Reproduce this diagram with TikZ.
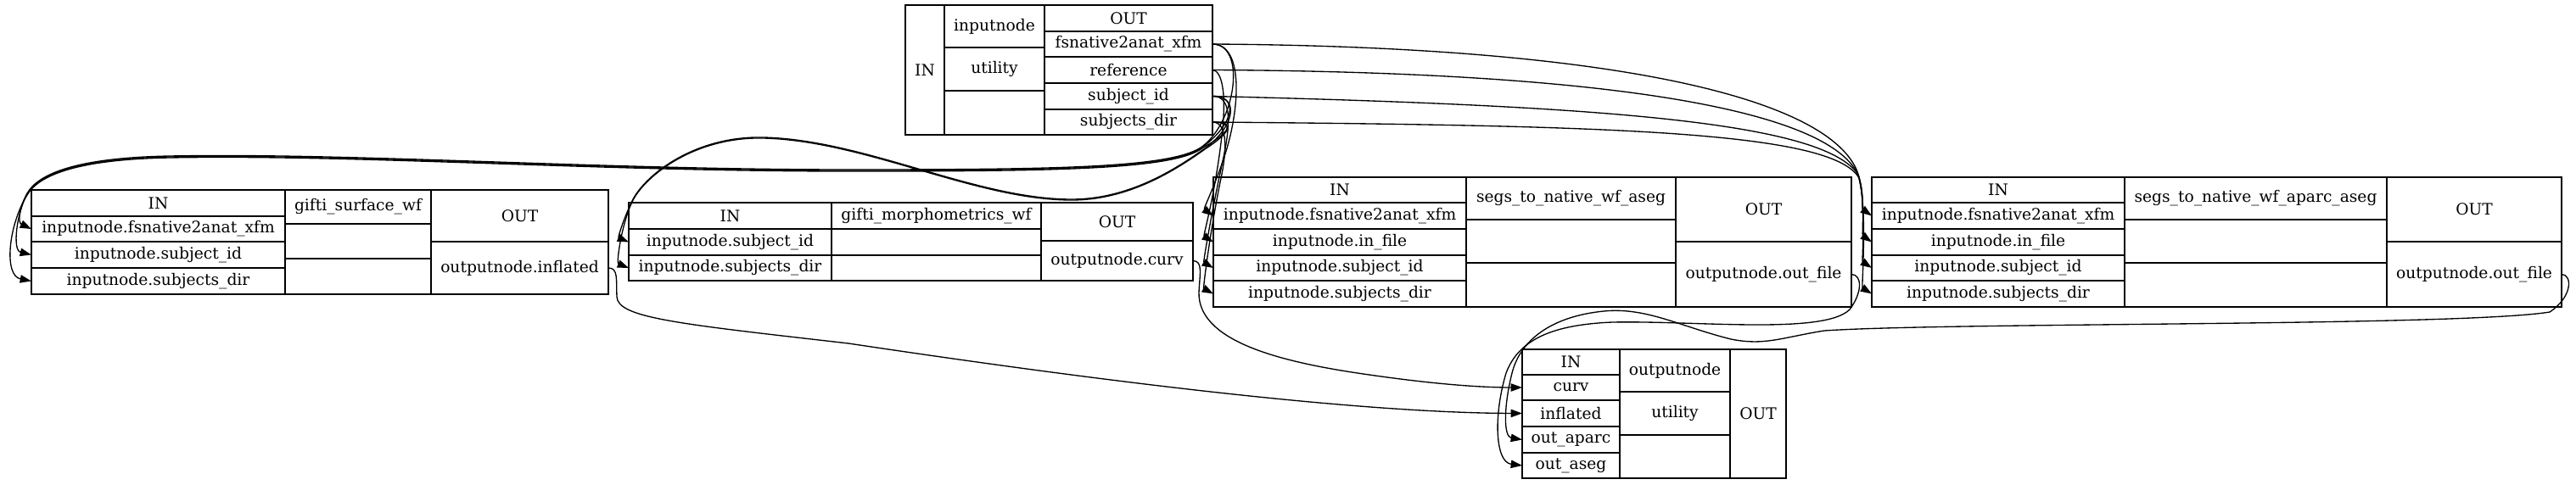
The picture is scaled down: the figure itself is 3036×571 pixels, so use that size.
\documentclass[tikz,border=0pt]{standalone}
\usepackage{fontspec}
\setmainfont{DejaVu Serif}
\usetikzlibrary{arrows.meta}
\newcommand\gvcell[6]{\node[gvc,minimum width={(#4-#2)*0.75pt},minimum height={(#5-#3)*0.75pt}] (#1) at ({(#2+#4)/2},{(#3+#5)/2}) {#6};}
\begin{document}
\begin{tikzpicture}[x=0.75pt,y=-0.75pt,
  gvc/.style={draw=black,line width=1pt,inner sep=0pt,outer sep=0pt,font=\fontsize{14}{16}\selectfont,anchor=center},
  gve/.style={draw=black,line width=1pt,-{Triangle[length=10pt,width=7pt]}}]
\useasboundingbox (0,0) rectangle (3036,571);
% ---- box 1: inputnode
\gvcell{b1in}{1067}{6}{1113}{159}{IN}
\gvcell{b1name}{1113}{6}{1231}{56}{inputnode}
\gvcell{b1util}{1113}{56}{1231}{107}{utility}
\gvcell{b1emp}{1113}{107}{1231}{159}{}
\gvcell{b1out}{1231}{6}{1429}{37}{OUT}
\gvcell{b1fs}{1231}{37}{1429}{67}{fsnative2anat\_xfm}
\gvcell{b1ref}{1231}{67}{1429}{98}{reference}
\gvcell{b1sid}{1231}{98}{1429}{129}{subject\_id}
\gvcell{b1sdir}{1231}{129}{1429}{159}{subjects\_dir}
% ---- box 2: gifti_surface_wf
\gvcell{b2in}{37}{224}{336}{255}{IN}
\gvcell{b2fs}{37}{255}{336}{285}{inputnode.fsnative2anat\_xfm}
\gvcell{b2sid}{37}{285}{336}{316}{inputnode.subject\_id}
\gvcell{b2sdir}{37}{316}{336}{347}{inputnode.subjects\_dir}
\gvcell{b2name}{336}{224}{508}{264}{gifti\_surface\_wf}
\gvcell{b2e1}{336}{264}{508}{305}{}
\gvcell{b2e2}{336}{305}{508}{347}{}
\gvcell{b2out}{508}{224}{717}{285}{OUT}
\gvcell{b2inf}{508}{285}{717}{347}{outputnode.inflated}
% ---- box 3: gifti_morphometrics_wf
\gvcell{b3in}{741}{239}{980}{270}{IN}
\gvcell{b3sid}{741}{270}{980}{301}{inputnode.subject\_id}
\gvcell{b3sdir}{741}{301}{980}{331}{inputnode.subjects\_dir}
\gvcell{b3name}{980}{239}{1227}{270}{gifti\_morphometrics\_wf}
\gvcell{b3e1}{980}{270}{1227}{301}{}
\gvcell{b3e2}{980}{301}{1227}{331}{}
\gvcell{b3out}{1227}{239}{1406}{284}{OUT}
\gvcell{b3curv}{1227}{284}{1406}{331}{outputnode.curv}
% ---- box 4: segs_to_native_wf_aseg
\gvcell{b4in}{1430}{209}{1728}{239}{IN}
\gvcell{b4fs}{1430}{239}{1728}{270}{inputnode.fsnative2anat\_xfm}
\gvcell{b4inf}{1430}{270}{1728}{301}{inputnode.in\_file}
\gvcell{b4sid}{1430}{301}{1728}{331}{inputnode.subject\_id}
\gvcell{b4sdir}{1430}{331}{1728}{362}{inputnode.subjects\_dir}
\gvcell{b4name}{1728}{209}{1975}{259}{segs\_to\_native\_wf\_aseg}
\gvcell{b4e1}{1728}{259}{1975}{310}{}
\gvcell{b4e2}{1728}{310}{1975}{362}{}
\gvcell{b4out}{1975}{209}{2182}{285}{OUT}
\gvcell{b4of}{1975}{285}{2182}{362}{outputnode.out\_file}
% ---- box 5: segs_to_native_wf_aparc_aseg
\gvcell{b5in}{2206}{209}{2504}{239}{IN}
\gvcell{b5fs}{2206}{239}{2504}{270}{inputnode.fsnative2anat\_xfm}
\gvcell{b5inf}{2206}{270}{2504}{301}{inputnode.in\_file}
\gvcell{b5sid}{2206}{301}{2504}{331}{inputnode.subject\_id}
\gvcell{b5sdir}{2206}{331}{2504}{362}{inputnode.subjects\_dir}
\gvcell{b5name}{2504}{209}{2813}{259}{segs\_to\_native\_wf\_aparc\_aseg}
\gvcell{b5e1}{2504}{259}{2813}{310}{}
\gvcell{b5e2}{2504}{310}{2813}{362}{}
\gvcell{b5out}{2813}{209}{3019}{285}{OUT}
\gvcell{b5of}{2813}{285}{3019}{362}{outputnode.out\_file}
% ---- box 6: outputnode
\gvcell{b6in}{1794}{412}{1909}{442}{IN}
\gvcell{b6curv}{1794}{442}{1909}{472}{curv}
\gvcell{b6inf}{1794}{472}{1909}{503}{inflated}
\gvcell{b6apa}{1794}{503}{1909}{534}{out\_aparc}
\gvcell{b6ase}{1794}{534}{1909}{564}{out\_aseg}
\gvcell{b6name}{1909}{412}{2039}{462}{outputnode}
\gvcell{b6util}{1909}{462}{2039}{513}{utility}
\gvcell{b6emp}{1909}{513}{2039}{564}{}
\gvcell{b6out}{2039}{412}{2105}{564}{OUT}
% ---- edges inputnode -> segs_to_native_wf_aparc_aseg
\draw[gve] (b1fs.east) .. controls (1900,55) and (2150,115) .. (2188,200) .. controls (2198,225) and (2194,246) .. (b5fs.west);
\draw[gve] (b1ref.east) .. controls (1900,85) and (2150,130) .. (2189,204) .. controls (2199,232) and (2194,277) .. (b5inf.west);
\draw[gve] (b1sid.east) .. controls (1900,125) and (2150,145) .. (2190,206) .. controls (2200,240) and (2194,308) .. (b5sid.west);
\draw[gve] (b1sdir.east) .. controls (1900,148) and (2160,155) .. (2191,210) .. controls (2201,245) and (2194,339) .. (b5sdir.west);
% ---- edges inputnode -> segs_to_native_wf_aseg
\draw[gve] (b1fs.east) .. controls (1464,52) and (1462,120) .. (1446,175) .. controls (1434,215) and (1418,246) .. (b4fs.west);
\draw[gve] (b1ref.east) .. controls (1440,83) and (1446,110) .. (1440,160) .. controls (1432,230) and (1418,278) .. (b4inf.west);
\draw[gve] (b1sid.east) .. controls (1450,113) and (1452,140) .. (1441,190) .. controls (1428,250) and (1418,309) .. (b4sid.west);
\draw[gve] (b1sdir.east) .. controls (1445,144) and (1448,170) .. (1438,215) .. controls (1425,280) and (1418,340) .. (b4sdir.west);
% ---- edges inputnode -> gifti_surface_wf
\draw[gve] (b1fs.east) .. controls (1468,52) and (1458,140) .. (1418,172) .. controls (1385,198) and (1250,200) .. (1000,200) .. controls (700,200) and (420,180) .. (200,184) .. controls (90,186) and (45,205) .. (32,228) .. controls (24,242) and (20,262) .. (b2fs.west);
\draw[gve] (b1sid.east) .. controls (1460,113) and (1455,145) .. (1418,173) .. controls (1385,199) and (1250,201) .. (1000,201) .. controls (700,201) and (420,181) .. (200,185) .. controls (90,187) and (45,206) .. (32,229) .. controls (20,250) and (14,295) .. (b2sid.west);
\draw[gve] (b1sdir.east) .. controls (1455,144) and (1452,155) .. (1418,174) .. controls (1385,200) and (1250,202) .. (1000,202) .. controls (700,202) and (420,182) .. (200,186) .. controls (90,188) and (45,207) .. (32,230) .. controls (10,265) and (4,325) .. (b2sdir.west);
% ---- edges inputnode -> gifti_morphometrics_wf
\draw[gve] (b1sid.east) .. controls (1462,113) and (1455,150) .. (1420,175) .. controls (1385,200) and (1330,235) .. (1263,235) .. controls (1150,235) and (1020,165) .. (900,162) .. controls (820,160) and (762,205) .. (746,235) .. controls (736,255) and (728,280) .. (b3sid.west);
\draw[gve] (b1sdir.east) .. controls (1456,144) and (1452,155) .. (1420,176) .. controls (1385,201) and (1330,236) .. (1263,236) .. controls (1150,236) and (1020,166) .. (900,163) .. controls (820,161) and (762,206) .. (746,236) .. controls (733,262) and (726,310) .. (b3sdir.west);
% ---- edges -> outputnode
\draw[gve] (b3curv.east) .. controls (1418,308) and (1414,322) .. (1413,345) .. controls (1412,400) and (1500,425) .. (1600,440) .. controls (1680,452) and (1740,457) .. (b6curv.west);
\draw[gve] (b2inf.east) .. controls (729,316) and (726,330) .. (727,350) .. controls (728,375) and (800,382) .. (1000,405) .. controls (1300,450) and (1600,487) .. (b6inf.west);
\draw[gve] (b4of.east) .. controls (2195,324) and (2195,345) .. (2180,365) .. controls (2150,395) and (2000,378) .. (1900,380) .. controls (1830,383) and (1790,400) .. (1775,440) .. controls (1760,490) and (1762,545) .. (b6ase.west);
\draw[gve] (b5of.east) .. controls (3032,324) and (3032,350) .. (3005,368) .. controls (2900,385) and (2300,380) .. (2150,390) .. controls (2100,398) and (2080,408) .. (2040,400) .. controls (1980,385) and (1940,362) .. (1890,367) .. controls (1830,373) and (1792,400) .. (1782,440) .. controls (1772,480) and (1772,515) .. (b6apa.west);
\end{tikzpicture}
\end{document}
